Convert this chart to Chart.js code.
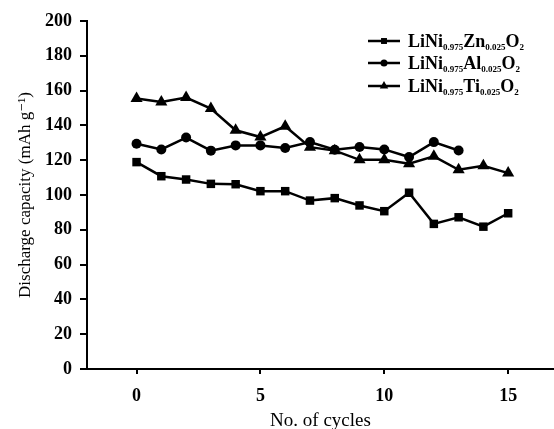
<!DOCTYPE html>
<html>
<head>
<meta charset="utf-8">
<script src="https://cdn.jsdelivr.net/npm/chart.js@4.4.1/dist/chart.umd.min.js"></script>
<style>
  html, body { margin: 0; padding: 0; background: #fff; }
  #wrap { width: 554px; height: 429px; position: relative; }
</style>
</head>
<body>
<div id="wrap"><canvas id="chart"></canvas></div>
<script>
// cycle numbers and discharge capacities (mAh/g)
const cycles = [0, 1, 2, 3, 4, 5, 6, 7, 8, 9, 10, 11, 12, 13, 14, 15];
const znCapacity = [118.9, 110.8, 108.9, 106.4, 106.2, 102.2, 102.2, 96.8, 98.2, 94.0, 90.7, 101.3, 83.4, 87.2, 81.8, 89.5];
const alCapacity = [129.5, 126.2, 133.0, 125.5, 128.5, 128.5, 127.0, 130.4, 126.0, 127.6, 126.2, 121.8, 130.4, 125.6];
const tiCapacity = [155.4, 153.5, 156.0, 149.7, 137.2, 133.3, 139.5, 127.5, 125.5, 120.2, 120.2, 118.0, 122.2, 114.5, 116.8, 112.6];

const xTicks = [0, 5, 10, 15];
const yTicks = [0, 20, 40, 60, 80, 100, 120, 140, 160, 180, 200];

// legend text split into [text, isSubscript] parts
const znLabel = [['LiNi', false], ['0.975', true], ['Zn', false], ['0.025', true], ['O', false], ['2', true]];
const alLabel = [['LiNi', false], ['0.975', true], ['Al', false], ['0.025', true], ['O', false], ['2', true]];
const tiLabel = [['LiNi', false], ['0.975', true], ['Ti', false], ['0.025', true], ['O', false], ['2', true]];

const toPoints = vals => vals.map((v, i) => ({ x: cycles[i], y: v }));

const serif = '"Liberation Serif", "DejaVu Serif", serif';

function series(label, parts, vals, style, radius) {
  return {
    label: label,
    parts: parts,
    data: toPoints(vals),
    borderColor: '#000',
    backgroundColor: '#000',
    borderWidth: 2.5,
    pointStyle: style,
    pointRadius: radius,
    pointBorderWidth: 0,
    tension: 0
  };
}

// draws the legend by hand so the subscripts come out right
const subscriptLegend = {
  id: 'subscriptLegend',
  afterDraw(chart) {
    const ctx = chart.ctx;
    const x0 = 368, x1 = 400, tx = 408;
    const rows = [41, 63, 86];
    chart.data.datasets.forEach((ds, i) => {
      const y = rows[i];
      ctx.save();
      ctx.strokeStyle = '#000';
      ctx.lineWidth = 2.5;
      ctx.beginPath();
      ctx.moveTo(x0, y);
      ctx.lineTo(x1, y);
      ctx.stroke();
      Chart.helpers.drawPoint(ctx, {
        pointStyle: ds.pointStyle, radius: ds.pointRadius * 0.7, borderWidth: 0, rotation: 0
      }, (x0 + x1) / 2, y);
      ctx.fillStyle = '#000';
      ctx.textBaseline = 'alphabetic';
      let x = tx;
      ds.parts.forEach(([text, sub]) => {
        ctx.font = sub ? 'bold 9px ' + serif : 'bold 18px ' + serif;
        ctx.fillText(text, x, sub ? y + 9 : y + 6);
        x += ctx.measureText(text).width;
      });
      ctx.restore();
    });
  }
};

new Chart(document.getElementById('chart'), {
  type: 'line',
  data: {
    datasets: [
      series('LiNi0.975Zn0.025O2', znLabel, znCapacity, 'rect', 6),
      series('LiNi0.975Al0.025O2', alLabel, alCapacity, 'circle', 5),
      series('LiNi0.975Ti0.025O2', tiLabel, tiCapacity, 'triangle', 7)
    ]
  },
  options: {
    responsive: true,
    maintainAspectRatio: false,
    animation: false,
    layout: { autoPadding: false, padding: { top: 21, right: 0, left: 0, bottom: 0 } },
    plugins: {
      legend: { display: false },
      tooltip: { enabled: false }
    },
    scales: {
      x: {
        type: 'linear',
        min: -2,
        max: 16.85,
        afterBuildTicks: axis => { axis.ticks = xTicks.map(v => ({ value: v })); },
        afterFit: axis => {
          axis.height = 60;
          axis.paddingLeft = 0;
          axis.paddingRight = 0;
        },
        border: { color: '#000', width: 2 },
        grid: { drawOnChartArea: false, color: '#000', lineWidth: 2, tickLength: 5 },
        ticks: {
          color: '#000',
          padding: 12,
          maxRotation: 0,
          font: { family: serif, size: 18, weight: 'bold' }
        },
        title: {
          display: true,
          text: 'No. of cycles',
          color: '#000',
          padding: { top: 0, bottom: -3 },
          font: { family: serif, size: 19 }
        }
      },
      y: {
        min: 0,
        max: 200,
        afterBuildTicks: axis => { axis.ticks = yTicks.map(v => ({ value: v })); },
        afterFit: axis => { axis.width = 87; },
        border: { color: '#000', width: 2 },
        grid: { drawOnChartArea: false, color: '#000', lineWidth: 2, tickLength: 7 },
        ticks: {
          color: '#000',
          padding: 8,
          font: { family: serif, size: 18, weight: 'bold' }
        },
        title: {
          display: true,
          text: 'Discharge capacity (mAh g\u207B\u00B9)',
          color: '#000',
          padding: { top: 15, bottom: 0 },
          font: { family: serif, size: 17 }
        }
      }
    }
  },
  plugins: [subscriptLegend]
});
</script>
</body>
</html>
